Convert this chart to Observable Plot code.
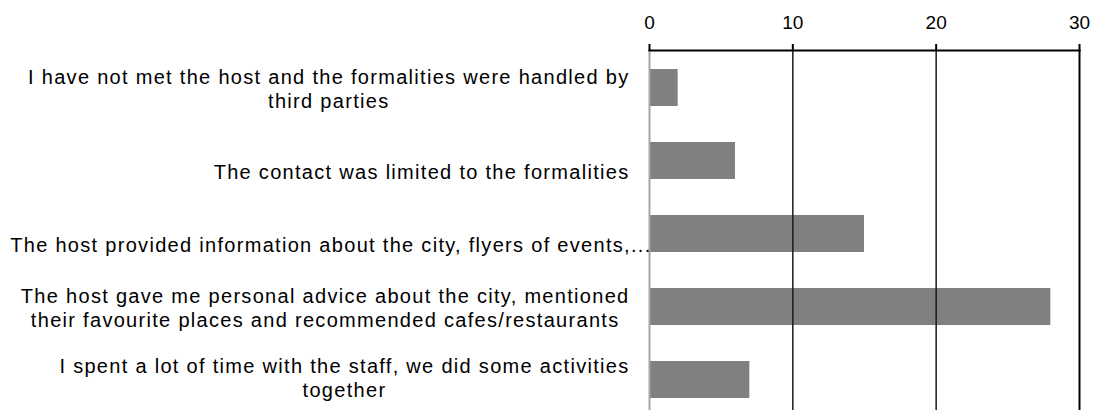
<!DOCTYPE html>
<html>
<head>
<meta charset="utf-8">
<script src="https://cdn.jsdelivr.net/npm/d3@7"></script>
<script src="https://cdn.jsdelivr.net/npm/@observablehq/plot@0.6"></script>
<style>
  html, body { margin: 0; padding: 0; background: #fff; overflow: hidden; }
  #chart svg g[aria-label="text"] text { letter-spacing: 1.3px; }
  #chart svg g[aria-label="x-axis tick label"],
  #chart svg g[aria-label="x-axis tick label"] text { font-size: 19px !important; }
</style>
</head>
<body>
<div id="chart"></div>
<script>
// ---- data ----
const categories = [
  "I have not met the host and the formalities were handled by\nthird parties",
  "The contact was limited to the formalities",
  "The host provided information about the city, flyers of events,...",
  "The host gave me personal advice about the city, mentioned\ntheir favourite places and recommended cafes/restaurants",
  "I spent a lot of time with the staff, we did some activities\ntogether"
];
const values = [2, 6, 15, 28, 7];
const xTicks = [0, 10, 20, 30];
const labelShift = [0, 10, 10, 0, -3];

// ---- helpers ----
const fontFamily = '"Liberation Sans", Arial, Helvetica, sans-serif';
const labelSize = 20, letterSp = 1.3;
const ctx = document.createElement("canvas").getContext("2d");
ctx.font = `${labelSize}px ${fontFamily}`;
const textWidth = s => ctx.measureText(s).width + s.length * letterSp;

const rows = categories.map((c, i) => ({cat: c, value: values[i]}));

const labelMarks = rows.map((r, i) => {
  const lines = r.cat.split("\n");
  const w = d3.max(lines, textWidth);
  const truncated = r.cat.endsWith("...");
  const gap = truncated ? -2 : 20;
  return Plot.text([r], {
    x: () => 0,
    y: "cat",
    text: "cat",
    textAnchor: "middle",
    lineAnchor: "middle",
    lineHeight: 24 / labelSize,
    fontSize: labelSize,
    fill: "#000",
    dx: -(gap + w / 2),
    dy: labelShift[i]
  });
});

const chart = Plot.plot({
  width: 1096,
  height: 410,
  marginLeft: 649,
  marginRight: 17,
  marginTop: 50,
  marginBottom: 0,
  style: {fontFamily, fontSize: "19px", color: "#000", background: "#fff"},
  x: {domain: [0, 30], axis: null},
  y: {domain: categories, range: [50, 416], paddingInner: 0.5, paddingOuter: 0.25, axis: null},
  marks: [
    Plot.barX(rows, {x: "value", y: "cat", fill: "#808080"}),
    Plot.ruleX([0], {stroke: "#a6a6a6", strokeWidth: 2}),
    Plot.ruleX(xTicks.filter(t => t > 0 && t < 30), {stroke: "#1a1a1a", strokeWidth: 1.5}),
    Plot.ruleX([30], {stroke: "#000", strokeWidth: 2}),
    Plot.frame({anchor: "top", stroke: "#000", strokeWidth: 2}),
    Plot.axisX({anchor: "top", ticks: xTicks, tickSize: 7, tickPadding: 15, strokeWidth: 2, fontSize: 19, label: null}),
    ...labelMarks
  ]
});
document.getElementById("chart").appendChild(chart);
</script>
</body>
</html>
